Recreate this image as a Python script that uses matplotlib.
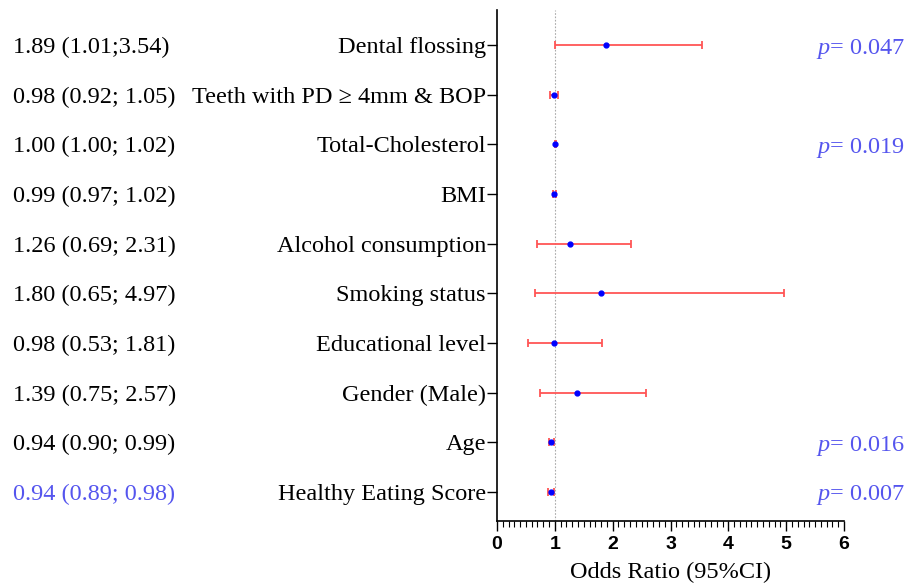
import matplotlib
matplotlib.use("Agg")
import matplotlib.pyplot as plt
from matplotlib.ticker import MultipleLocator
from matplotlib import transforms

plt.rcParams["mathtext.fontset"] = "custom"
plt.rcParams["mathtext.it"] = "Liberation Serif:italic"
plt.rcParams["mathtext.rm"] = "Liberation Serif"

labels = ["Dental flossing", "Teeth with PD \u2265 4mm & BOP", "Total-Cholesterol", "BMI",
          "Alcohol consumption", "Smoking status", "Educational level", "Gender (Male)",
          "Age", "Healthy Eating Score"]
or_vals = [1.89, 0.98, 1.00, 0.99, 1.26, 1.80, 0.98, 1.39, 0.94, 0.94]
ci_low = [1.01, 0.92, 1.00, 0.97, 0.69, 0.65, 0.53, 0.75, 0.90, 0.89]
ci_high = [3.54, 1.05, 1.02, 1.02, 2.31, 4.97, 1.81, 2.57, 0.99, 0.98]
or_text = ["1.89 (1.01;3.54)", "0.98 (0.92; 1.05)", "1.00 (1.00; 1.02)", "0.99 (0.97; 1.02)",
           "1.26 (0.69; 2.31)", "1.80 (0.65; 4.97)", "0.98 (0.53; 1.81)", "1.39 (0.75; 2.57)",
           "0.94 (0.90; 0.99)", "0.94 (0.89; 0.98)"]
pvals = {"Dental flossing": "0.047", "Total-Cholesterol": "0.019", "Age": "0.016",
         "Healthy Eating Score": "0.007"}
highlight = ["Healthy Eating Score"]
xticks = [0, 1, 2, 3, 4, 5, 6]

serif = "Liberation Serif"
fs = 17.5
blue_txt = "#5555ee"
fig = plt.figure(figsize=(9.08, 5.88), dpi=100)
ax = fig.add_axes([497 / 908, 1 - 521 / 588, (844 - 497) / 908, (521 - 10) / 588])

n = len(labels)
ys = [n - 1 - i for i in range(n)]
xerr = [[o - l for o, l in zip(or_vals, ci_low)], [h - o for o, h in zip(or_vals, ci_high)]]
ax.axvline(1, color="#aaaaaa", linestyle=(0, (1.5, 1.5)), linewidth=0.8, zorder=0)
ax.errorbar(or_vals, ys, xerr=xerr, fmt="o", color="blue", markersize=3.5,
            ecolor="#ff5555", elinewidth=1.3, capsize=3, capthick=1.3, zorder=3)

ax.set_xlim(0, 6)
ax.set_ylim(-0.584, n - 1 + 0.705)
ax.set_yticks(ys)
ax.set_yticklabels(labels, fontfamily=serif, fontsize=fs)
ax.set_xticks(xticks)
ax.set_xticklabels([str(t) for t in xticks], fontfamily="Liberation Sans", fontweight="bold", fontsize=14)
ax.xaxis.set_minor_locator(MultipleLocator(0.1))
ax.tick_params(axis="y", length=7, width=1, pad=1)
ax.tick_params(axis="x", which="major", length=7, width=1, pad=4)
ax.tick_params(axis="x", which="minor", length=4, width=0.8)
for s in ["top", "right"]:
    ax.spines[s].set_visible(False)
for s in ["left", "bottom"]:
    ax.spines[s].set_linewidth(1.2)
ax.set_xlabel("Odds Ratio (95%CI)", fontfamily=serif, fontsize=fs, labelpad=6)

tr = transforms.blended_transform_factory(fig.transFigure, ax.transData)
for y, lab, t in zip(ys, labels, or_text):
    c = blue_txt if lab in highlight else "black"
    ax.text(13 / 908, y, t, transform=tr, fontsize=fs, fontfamily=serif,
            color=c, va="center_baseline", ha="left")
    if lab in pvals:
        ax.text(905 / 908, y, "$\\it{p}$= " + pvals[lab], transform=tr,
                fontsize=fs, fontfamily=serif, color=blue_txt, va="center_baseline", ha="right")

fig.savefig("out.png", dpi=100)
